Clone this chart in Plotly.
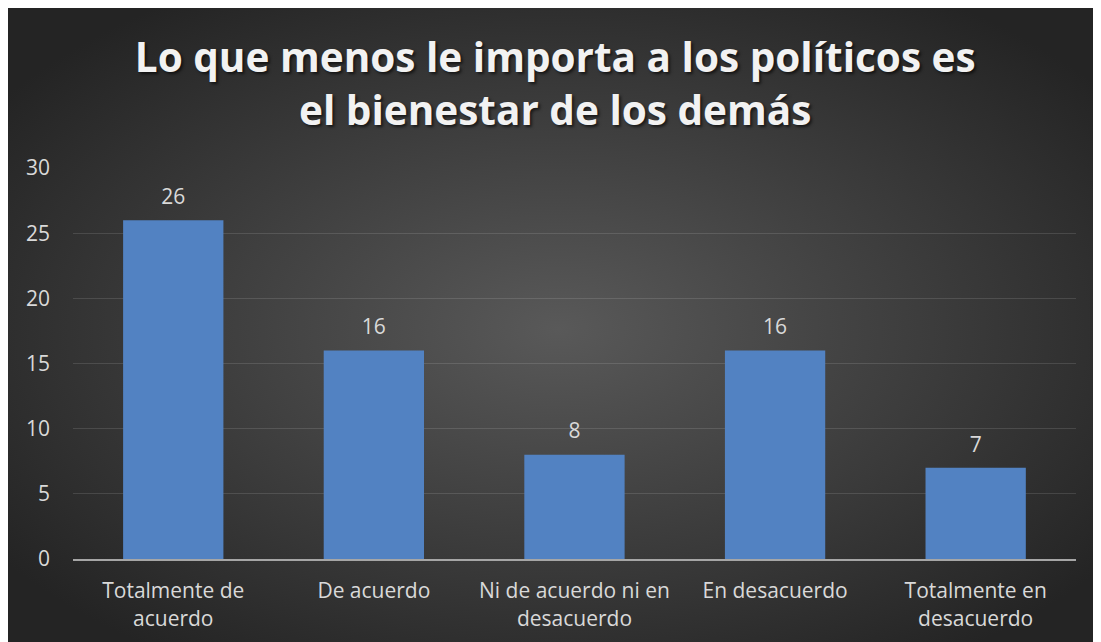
import base64
import plotly.graph_objects as go

# datos
categorias = ["Totalmente de<br>acuerdo", "De acuerdo", "Ni de acuerdo ni en<br>desacuerdo",
              "En desacuerdo", "Totalmente en<br>desacuerdo"]
valores = [26, 16, 8, 16, 7]
ticks_y = [0, 5, 10, 15, 20, 25, 30]

titulo = "Lo que menos le importa a los políticos es<br>el bienestar de los demás"

# fondo con degradado radial (estilo Excel)
svg = """<svg xmlns='http://www.w3.org/2000/svg' width='1101' height='642' preserveAspectRatio='none'>
<defs><radialGradient id='g' cx='50%' cy='50%' r='62%'>
<stop offset='0%' stop-color='#595959'/>
<stop offset='100%' stop-color='#242424'/>
</radialGradient></defs>
<rect width='1101' height='642' fill='url(#g)'/></svg>"""
fondo = "data:image/svg+xml;base64," + base64.b64encode(svg.encode()).decode()

fig = go.Figure()

fig.add_trace(go.Bar(
    x=categorias, y=valores,
    marker=dict(color="#5282c2", line=dict(width=0)),
    width=0.5,
    hoverinfo="x+y",
))

# etiquetas de datos encima de las barras
fig.add_trace(go.Scatter(
    x=categorias, y=valores,
    mode="markers+text",
    text=[str(v) for v in valores],
    textposition="top center",
    textfont=dict(color="#d9d9d9", size=21, family="Open Sans"),
    marker=dict(size=16, color="rgba(0,0,0,0)"),
    cliponaxis=False,
    hoverinfo="skip",
))

fig.update_layout(
    width=1101, height=642,
    margin=dict(l=0, r=0, t=0, b=0, autoexpand=False),
    paper_bgcolor="#262626",
    plot_bgcolor="rgba(0,0,0,0)",
    showlegend=False,
    title=dict(
        text=titulo, x=0.497, xanchor="center", y=0.9, yanchor="top",
        font=dict(family="Open Sans", size=40.5, color="#f2f2f2", weight="bold",
                  shadow="2px 2px 3px rgba(0,0,0,0.6)"),
    ),
    images=[dict(source=fondo, xref="paper", yref="paper", x=0, y=1,
                 sizex=1, sizey=1, sizing="stretch", layer="below")],
    xaxis=dict(
        domain=[0.059, 0.970], automargin=False,
        showgrid=False, showline=True, linecolor="#a6a6a6", linewidth=2,
        tickfont=dict(color="#d9d9d9", size=21, family="Open Sans"),
        ticks="", ticklabelstandoff=12,
    ),
    yaxis=dict(
        domain=[0.1417, 0.7508], range=[0, 30], tickvals=ticks_y, automargin=False,
        showgrid=True, gridcolor="rgba(255,255,255,0.12)", gridwidth=1,
        zeroline=False, showline=False,
        tickfont=dict(color="#d9d9d9", size=21, family="Open Sans"),
        ticklabelstandoff=22,
    ),
)

fig.write_html("out.html")
